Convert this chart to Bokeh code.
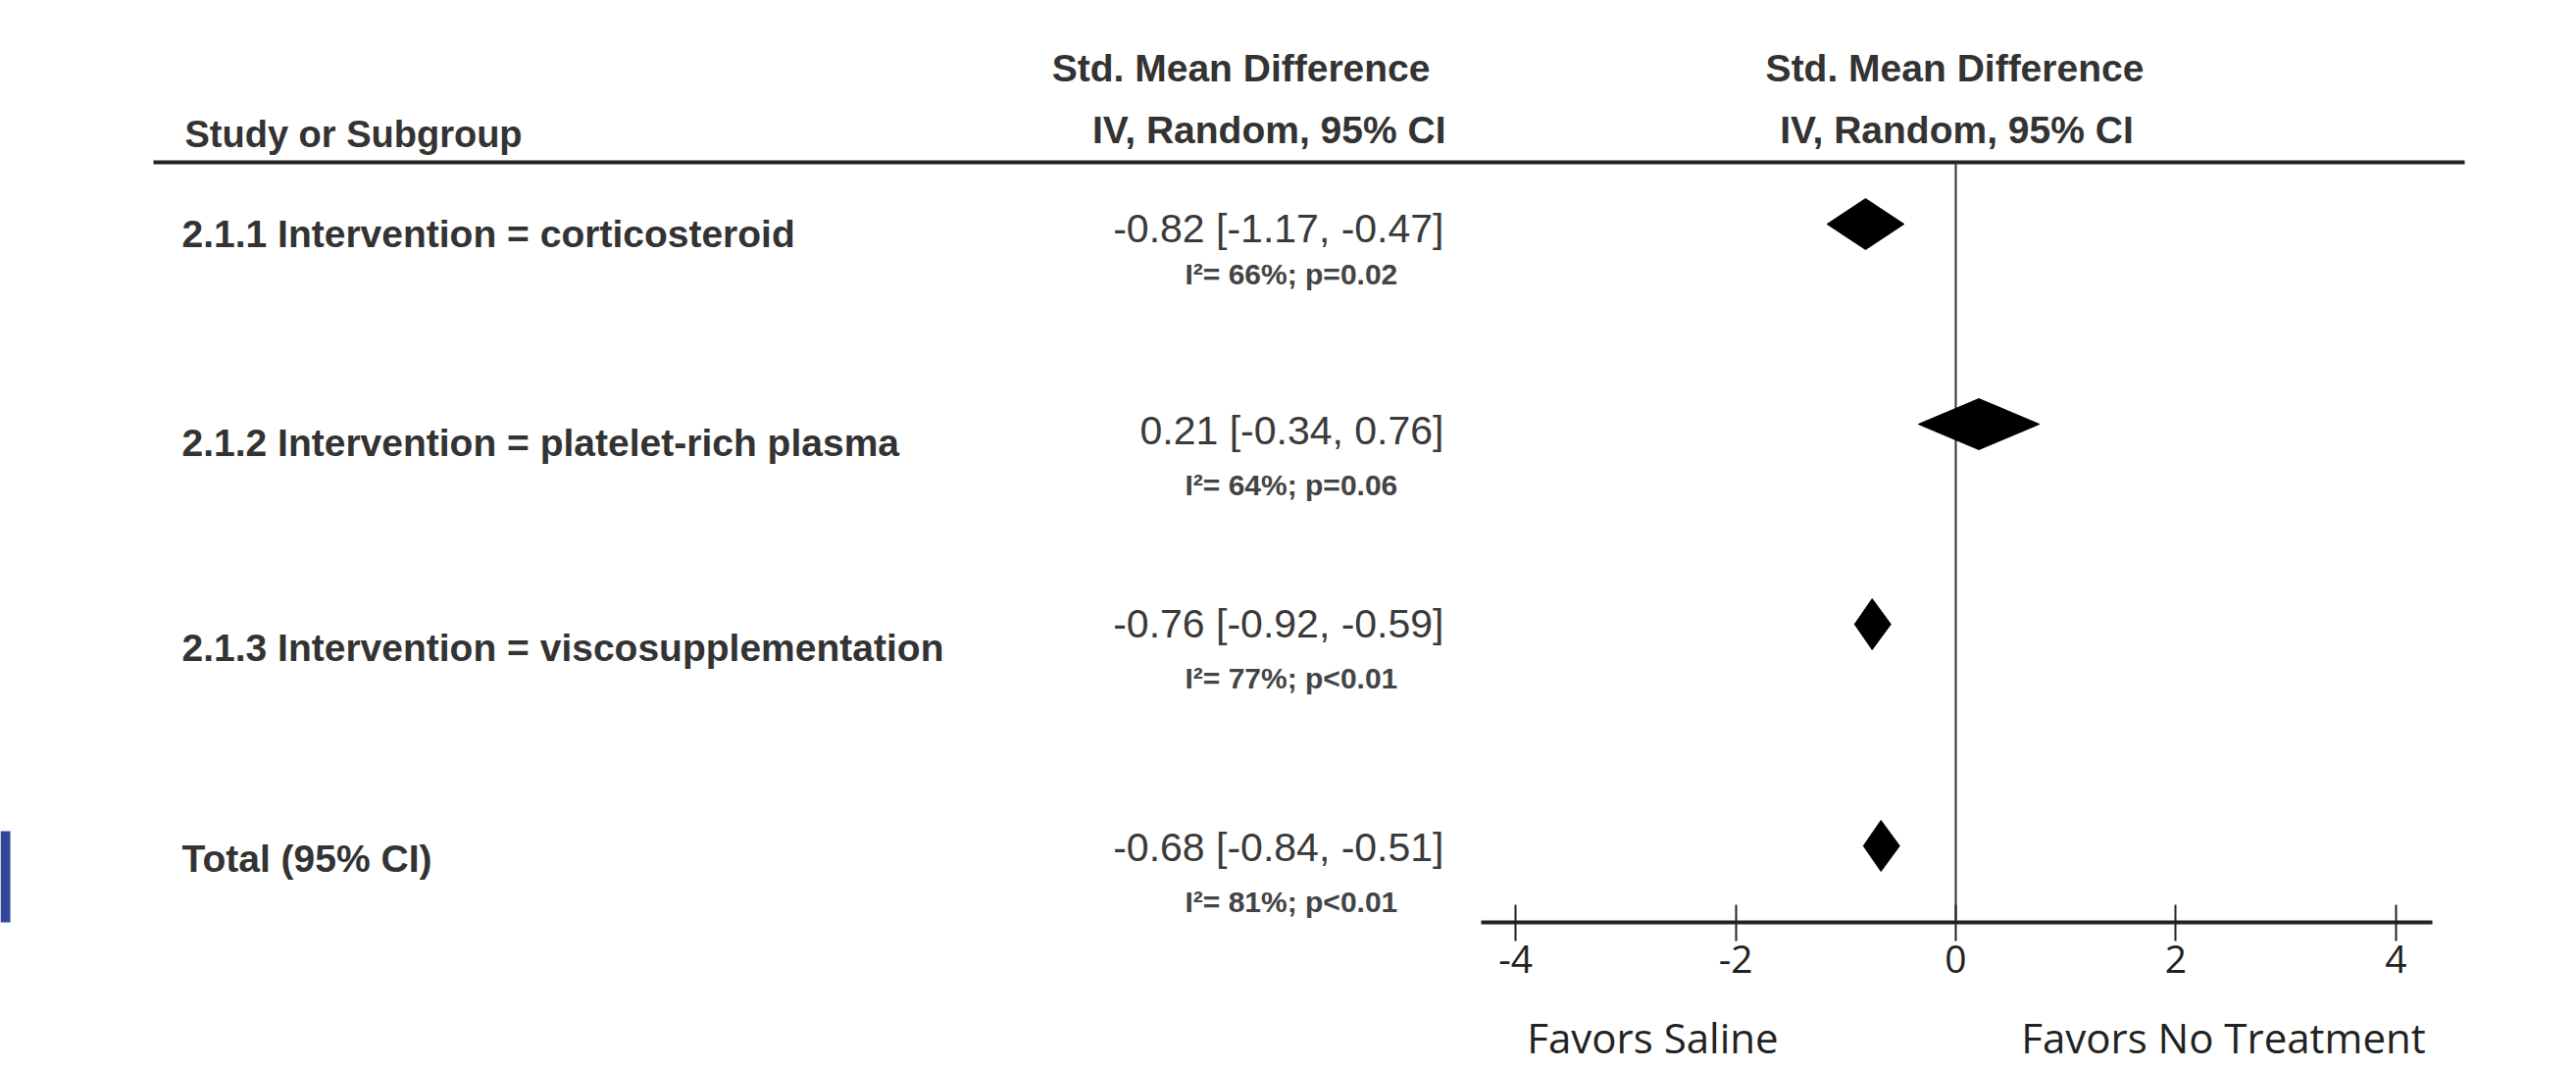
from bokeh.plotting import figure
from bokeh.models import Range1d, FixedTicker, LinearAxis
from bokeh.core.properties import value
from bokeh.embed import file_html
from bokeh.resources import INLINE

# ---------------- data ----------------
subgroups = ["2.1.1 Intervention = corticosteroid",
             "2.1.2 Intervention = platelet-rich plasma",
             "2.1.3 Intervention = viscosupplementation",
             "Total (95% CI)"]
smd = [-0.82, 0.21, -0.76, -0.68]
ci_lo = [-1.17, -0.34, -0.92, -0.84]
ci_hi = [-0.47, 0.76, -0.59, -0.51]
i2 = [66, 64, 77, 81]
p_vals = ["p=0.02", "p=0.06", "p<0.01", "p<0.01"]
tick_values = [-4, -2, 0, 2, 4]
tick_labels = ["-4", "-2", "0", "2", "4"]
col_header = "Study or Subgroup"
effect_header = ["Std. Mean Difference", "IV, Random, 95% CI"]
favors = ["Favors Saline", "Favors No Treatment"]

# ---------------- layout (page pixels) ----------------
W, H = 2627, 1090
ZERO_PX, UNIT_PX = 1994.0, 112.2
AXIS_Y = 940
row_label_y = [238, 451, 660, 875]
row_stat_y = [232, 438, 635, 863]
row_i2_y = [279, 494, 691, 919]
row_diam_y = [228, 432, 636, 862]
DIAM_H = 52
HEADER_LINE_Y = 165
FAVORS_PX = [1685, 2267]

def to_eff(px):
    return (px - ZERO_PX) / UNIT_PX

FONT = "Liberation Sans"
TXT = "#333333"

p = figure(width=W, height=H, output_backend="svg", toolbar_location=None,
           x_range=Range1d(to_eff(0), to_eff(W)),
           y_range=Range1d(AXIS_Y, 0),
           y_axis_location=None, x_axis_location="below",
           min_border_left=0, min_border_right=0, min_border_top=0,
           min_border_bottom=H - AXIS_Y, background_fill_color="white",
           border_fill_color="white", outline_line_color=None)
p.extra_x_ranges = {"px": Range1d(0, W)}
p.xgrid.visible = False
p.ygrid.visible = False

ax = p.xaxis[0]
ax.ticker = FixedTicker(ticks=tick_values)
ax.major_label_overrides = {v: s for v, s in zip(tick_values, tick_labels)}
ax.bounds = (to_eff(1510), to_eff(2480))
ax.axis_line_width = 4
ax.axis_line_color = "#222222"
ax.major_tick_in = 18
ax.major_tick_out = 19
ax.major_tick_line_width = 2
ax.major_tick_line_color = "#222222"
ax.minor_tick_line_color = None
ax.major_label_standoff = 4
ax.major_label_text_font = "Open Sans"
ax.major_label_text_font_size = "39px"
ax.major_label_text_color = "#222222"

# second (label-only) axis carrying the "Favors ..." captions
fav_ticks = [to_eff(v) for v in FAVORS_PX]
ax2 = LinearAxis(ticker=FixedTicker(ticks=fav_ticks),
                 major_label_overrides={t: s for t, s in zip(fav_ticks, favors)},
                 axis_line_color=None, major_tick_line_color=None,
                 minor_tick_line_color=None, major_label_standoff=28,
                 major_label_text_font="Open Sans",
                 major_label_text_font_size="42px",
                 major_label_text_color="#222222")
p.add_layout(ax2, "below")

# decorative blue bar at left edge
p.quad(left=[0], right=[10], bottom=[983], top=[847], x_range_name="px",
       fill_color="#33479a", line_color=None)

# header rule
p.segment(x0=[156], x1=[2513], y0=[HEADER_LINE_Y], y1=[HEADER_LINE_Y],
          x_range_name="px", line_width=4, line_color="#222222")

# zero line
p.segment(x0=[0], x1=[0], y0=[HEADER_LINE_Y], y1=[AXIS_Y],
          line_width=2, line_color="#333333")

# diamonds
xs = [[lo, m, hi, m] for lo, m, hi in zip(ci_lo, smd, ci_hi)]
ys = [[y, y - DIAM_H / 2, y, y + DIAM_H / 2] for y in row_diam_y]
p.patches(xs=xs, ys=ys, fill_color="black", line_color="black", line_width=1)

# headers
p.text(x=[188], y=[136], text=[col_header], x_range_name="px",
       text_font=value(FONT), text_font_style="bold", text_font_size="38px",
       text_color=TXT, text_align="left", text_baseline="middle")
p.text(x=[1458, 1474], y=[69, 132], text=effect_header, x_range_name="px",
       text_font=value(FONT), text_font_style="bold", text_font_size="39px",
       text_color=TXT, text_align="right", text_baseline="middle")
p.text(x=[1993, 1995], y=[69, 132], text=effect_header, x_range_name="px",
       text_font=value(FONT), text_font_style="bold", text_font_size="39px",
       text_color=TXT, text_align="center", text_baseline="middle")

# row labels
p.text(x=[185] * len(subgroups), y=row_label_y, text=subgroups, x_range_name="px",
       text_font=value(FONT), text_font_style="bold", text_font_size="39px",
       text_color=TXT, text_align="left", text_baseline="middle")

# effect stats
stats = [f"{m:.2f} [{lo:.2f}, {hi:.2f}]" for m, lo, hi in zip(smd, ci_lo, ci_hi)]
p.text(x=[1472] * len(stats), y=row_stat_y, text=stats, x_range_name="px",
       text_font=value(FONT), text_font_size="41px",
       text_color="#3a3a3a", text_align="right", text_baseline="middle")

# heterogeneity
het = [f"I\u00b2= {v}%; {pv}" for v, pv in zip(i2, p_vals)]
p.text(x=[1208] * len(het), y=row_i2_y, text=het, x_range_name="px",
       text_font=value(FONT), text_font_style="bold", text_font_size="30px",
       text_color="#444444", text_align="left", text_baseline="middle")

open("out.html", "w").write(file_html(p, INLINE))
